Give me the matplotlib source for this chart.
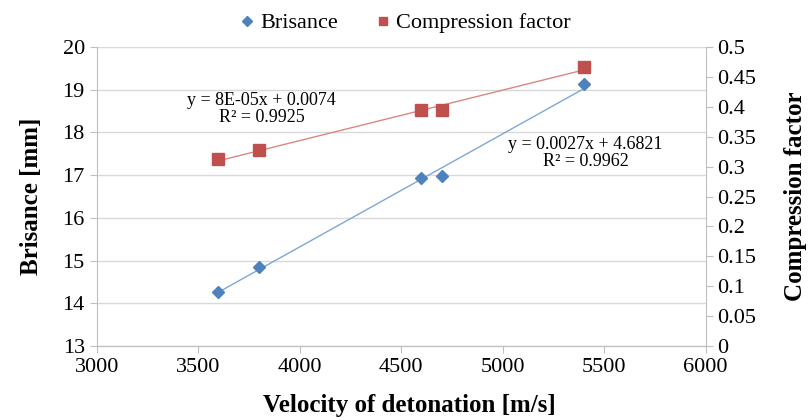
import numpy as np
import matplotlib
matplotlib.use('Agg')
import matplotlib.pyplot as plt

plt.rcParams['font.family'] = ['Liberation Serif', 'DejaVu Serif']

velocity = [3600, 3800, 4600, 4700, 5400]
brisance = [14.27, 14.86, 16.93, 16.97, 19.13]
compression = [0.312, 0.328, 0.394, 0.394, 0.467]

x_ticks = [3000, 3500, 4000, 4500, 5000, 5500, 6000]
left_ticks = [13, 14, 15, 16, 17, 18, 19, 20]
right_ticks = [0, 0.05, 0.1, 0.15, 0.2, 0.25, 0.3, 0.35, 0.4, 0.45, 0.5]
right_labels = ['0', '0.05', '0.1', '0.15', '0.2', '0.25', '0.3', '0.35', '0.4', '0.45', '0.5']

blue = '#4F81BD'
red = '#C0504D'
grey = '#BFBFBF'

fig = plt.figure(figsize=(8.12, 4.2), dpi=100)
ax = fig.add_axes([0.119, 0.176, 0.750, 0.712])
ax2 = ax.twinx()

# trendlines from linear fit over data range
xs = np.array([min(velocity), max(velocity)])
kb = np.polyfit(velocity, brisance, 1)
kc = np.polyfit(velocity, compression, 1)
ax.plot(xs, np.polyval(kb, xs), color='#7EA6D8', lw=1, zorder=2)
ax2.plot(xs, np.polyval(kc, xs), color='#DA8683', lw=1, zorder=2)

ax.plot(velocity, brisance, 'D', color=blue, ms=6, label='Brisance', zorder=3)
ax2.plot(velocity, compression, 's', color=red, ms=8, label='Compression factor', zorder=3)

ax.set_xlim(3000, 6000)
ax.set_ylim(13, 20)
ax2.set_ylim(0, 0.5)
ax.set_xticks(x_ticks)
ax.set_yticks(left_ticks)
ax2.set_yticks(right_ticks)
ax2.set_yticklabels(right_labels)

ax.grid(axis='y', color='#D9D9D9', lw=1)
ax.set_axisbelow(True)

for a in (ax, ax2):
    a.spines['top'].set_visible(False)
    for s in ('left', 'right', 'bottom'):
        a.spines[s].set_color(grey)
    a.tick_params(colors=grey, labelcolor='black', labelsize=16, length=5)
ax2.spines['left'].set_visible(False)
ax.spines['right'].set_visible(False)

ax.set_xlabel('Velocity of detonation [m/s]', fontsize=18, fontweight='bold')
ax.xaxis.set_label_coords(0.514, -0.16)
ax.set_ylabel('Brisance [mm]', fontsize=18, fontweight='bold', labelpad=14)
ax2.set_ylabel('Compression factor', fontsize=18, fontweight='bold', labelpad=20)

ax.text(3813, 18.55, 'y = 8E-05x + 0.0074\nR² = 0.9925', ha='center', va='center',
        fontsize=13, linespacing=1.05)
ax.text(5409, 17.52, 'y = 0.0027x + 4.6821\nR² = 0.9962', ha='center', va='center',
        fontsize=13, linespacing=1.05)

h1, l1 = ax.get_legend_handles_labels()
h2, l2 = ax2.get_legend_handles_labels()
fig.legend(h1 + h2, l1 + l2, loc='center', bbox_to_anchor=(0.497, 0.945), ncol=2,
           frameon=False, fontsize=16, handletextpad=0.1, columnspacing=1.5,
           handlelength=1.0, markerscale=0.8)

fig.savefig('out.png', dpi=100)
